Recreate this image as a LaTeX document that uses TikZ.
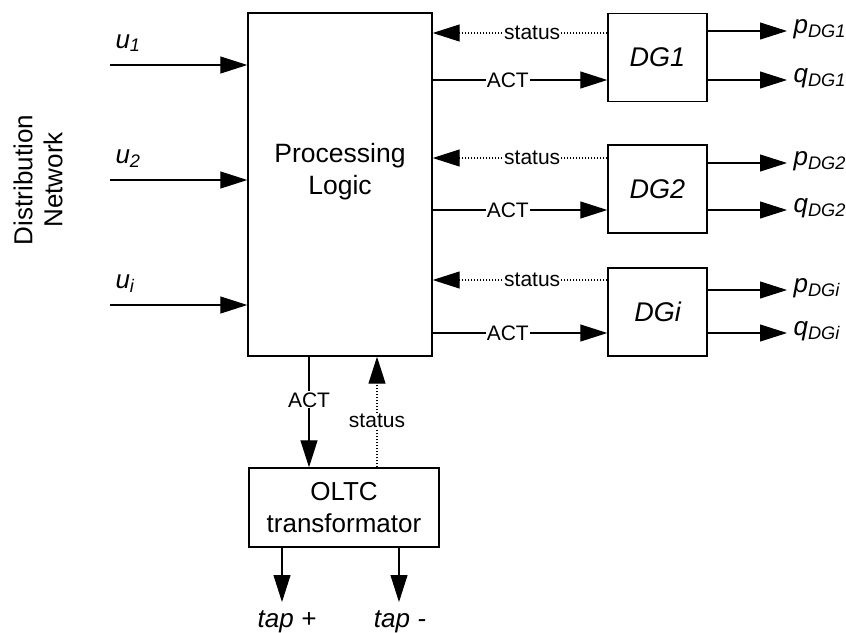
\documentclass[tikz,border=0pt]{standalone}
\usepackage{fontspec}
\setmainfont{Liberation Sans}
\usetikzlibrary{arrows.meta,positioning}

\tikzset{
  blk/.style={draw, line width=1.4pt, inner sep=0pt, font=\fontsize{26}{32}\selectfont, align=center},
  sig/.style={line width=1.1pt, -{Triangle[length=27pt,width=17pt]}},
  stat/.style={line width=1.1pt, dash pattern=on 1pt off 2pt, -{Triangle[length=27pt,width=17pt]}},
  tag/.style={fill=white, inner sep=1pt, font=\fontsize{21}{24}\selectfont},
  big/.style={font=\fontsize{26}{30}\selectfont},
}

\begin{document}
\begin{tikzpicture}[x=1pt, y=-1pt]
      \useasboundingbox (0,0) rectangle (846,632);
      % blocks
      \node[blk, minimum width=184pt, minimum height=343pt] (logic) at (340,184.5) {};
      \node[big, align=center, font=\fontsize{26.5}{32}\selectfont] (logictxt) at (340,172) {Processing\\Logic};
      \node[blk, minimum width=190pt, minimum height=79pt] (oltc) at (344,507.5) {OLTC\\transformator};
      \node[big, rotate=90, align=center] (distnet) at (38,180) {Distribution\\Network};
      % inputs
      \foreach \n/\y in {1/65, 2/180, i/305} {
        \coordinate (u\n in) at (110,\y);
        \draw[sig] (u\n in) -- (logic.west |- u\n in);
        \node[big, anchor=base west] (u\n) at (112,\y-17) {\itshape u\textsubscript{\n}};
      }
      % DG units
      \foreach \n/\y/\s/\a/\p in {1/57.5/33/80/31, 2/189/158/210/163, i/312/280/333/290} {
        \node[blk, minimum width=99pt, minimum height=88pt, font=\fontsize{27}{32}\selectfont\itshape] (dg\n) at (657.5,\y) {DG\n};
        \coordinate (st\n) at (dg\n.west |- 0,\s);
        \coordinate (act\n) at (dg\n.west |- 0,\a);
        \draw[stat] (st\n) -- node[tag, pos=0.43] {status} (logic.east |- st\n);
        \draw[sig] (logic.east |- act\n) -- node[tag, pos=0.43] {ACT} (act\n);
        \coordinate (pout\n) at (787,\p);
        \coordinate (qout\n) at (787,\a);
        \draw[sig] (dg\n.east |- pout\n) -- (pout\n);
        \draw[sig] (dg\n.east |- qout\n) -- (qout\n);
        \node[big, anchor=base west] (p\n) at (790,\p+2) {\itshape p\textsubscript{DG\n}};
        \node[big, anchor=base west] (q\n) at (790,\a+2) {\itshape q\textsubscript{DG\n}};
      }
      % OLTC links
      \coordinate (oact) at (oltc.north -| 309,0);
      \coordinate (ostat) at (oltc.north -| 377,0);
      \draw[sig] (logic.south -| oact) -- node[tag, pos=0.39] {ACT} (oact);
      \draw[stat] (ostat) -- node[tag, pos=0.42] {status} (logic.south -| ostat);
      \coordinate (tapp) at (282,602);
      \coordinate (tapm) at (399,602);
      \draw[sig] (oltc.south -| tapp) -- (tapp);
      \draw[sig] (oltc.south -| tapm) -- (tapm);
      \node[big, anchor=base] (tappl) at (287,627) {\itshape tap +};
      \node[big, anchor=base] (tapml) at (400,627) {\itshape tap -};
    \end{tikzpicture}
\end{document}
